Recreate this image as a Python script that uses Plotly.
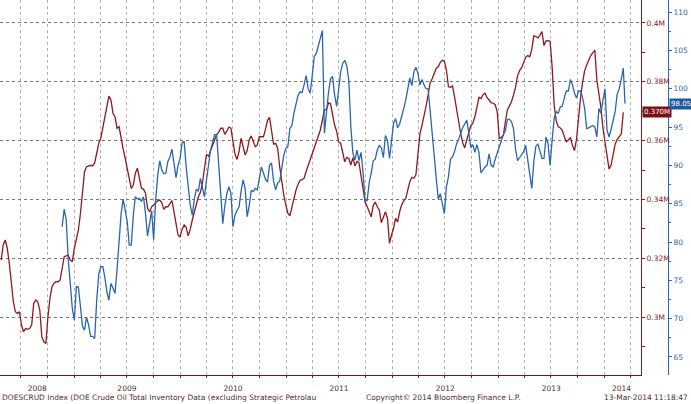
import plotly.graph_objects as go
import pandas as pd

# DOESCRUD (crude inventories, thousand-thousand barrels -> shown as M), weekly
red_start = "2008-04-25"
red_vals = [
    319.4, 324.5, 326.2, 323.4, 318.3, 312.6, 305.2, 301.8, 301.2, 301.8,
    297.3, 295.0, 296.1, 295.8, 296.1, 297.3, 304.6, 305.8, 305.2, 302.4,
    293.3, 291.6, 291.0, 300.1, 306.4, 310.3, 311.5, 312.0, 312.0, 312.6,
    316.0, 320.5, 320.8, 321.1, 319.4, 318.8, 323.4, 326.2, 329.6, 335.3,
    342.1, 349.4, 351.1, 351.4, 351.6, 351.4, 352.5, 355.7, 359.1, 360.8,
    364.2, 368.1, 372.1, 375.1, 373.8, 369.3, 368.1, 364.2, 364.7, 360.2,
    357.1, 354.0, 350.6, 346.6, 343.7, 344.9, 348.9, 350.6, 347.7, 343.8,
    343.5, 342.1, 337.0, 335.8, 337.5, 338.2, 338.7, 339.5, 339.8, 338.9,
    336.6, 337.5, 337.5, 338.7, 339.6, 335.8, 331.9, 327.9, 327.3, 329.8,
    331.3, 330.5, 327.6, 329.8, 333.0, 335.6, 339.0, 340.9, 342.4, 345.5,
    350.6, 355.3, 354.7, 356.6, 358.4, 360.8, 362.1, 362.8, 364.2, 364.2,
    362.1, 363.2, 364.6, 364.2, 360.2, 355.4, 353.6, 356.2, 360.8, 357.4,
    355.1, 356.6, 360.2, 361.6, 359.6, 357.9, 358.5, 361.3, 361.3, 361.3,
    363.8, 366.8, 367.9, 363.0, 358.8, 359.1, 357.4, 351.1, 346.0, 341.5,
    338.2, 335.3, 334.4, 337.5, 340.9, 343.1, 345.1, 346.5, 346.7, 347.2,
    349.5, 351.5, 354.0, 355.9, 357.9, 359.2, 361.3, 363.6, 367.0, 370.4,
    370.6, 372.8, 372.5, 368.1, 365.3, 363.2, 359.5, 359.1, 355.6, 352.8,
    354.3, 353.9, 351.7, 354.2, 351.4, 352.9, 352.5, 348.0, 342.3, 339.2,
    337.6, 335.6, 334.1, 337.9, 339.1, 337.5, 336.4, 332.1, 334.1, 335.8,
    333.6, 325.1, 327.9, 330.2, 333.6, 332.3, 335.8, 338.2, 339.5, 340.3,
    343.2, 346.0, 347.5, 347.2, 348.4, 355.1, 362.4, 365.2, 368.1, 371.7,
    375.5, 379.6, 381.0, 382.7, 384.6, 385.1, 386.6, 387.3, 387.0, 384.0,
    378.3, 378.1, 378.6, 374.9, 370.4, 366.4, 362.5, 359.3, 357.5, 360.2,
    363.0, 365.1, 365.9, 368.1, 371.3, 374.7, 374.3, 375.6, 376.1, 374.6,
    373.8, 372.9, 372.7, 372.2, 369.8, 360.8, 361.1, 361.8, 366.4, 370.4,
    371.8, 373.2, 375.5, 378.1, 382.0, 383.8, 384.8, 386.4, 388.3, 388.9,
    388.5, 391.0, 395.6, 395.4, 394.9, 395.8, 397.1, 392.3, 393.9, 394.0,
    393.8, 385.1, 372.1, 366.8, 364.7, 364.3, 363.5, 361.3, 359.6, 360.2,
    361.1, 358.3, 356.6, 360.4, 368.7, 374.7, 379.9, 383.8, 385.7, 387.4,
    388.9, 389.8, 390.8, 380.6, 375.5, 371.3, 364.2, 359.4, 353.6, 350.3,
    351.7, 355.7, 358.8, 360.4, 361.3, 362.2, 369.6,
]

# Blue price series, weekly plus final daily print
blue_start = "2008-11-21"
blue_vals = [
    82.0, 84.3, 82.9, 77.7, 74.6, 71.3, 69.8, 74.2, 74.1, 71.8,
    69.0, 68.5, 70.2, 69.2, 67.7, 67.7, 67.4, 72.4, 75.8, 76.8,
    76.8, 75.4, 73.5, 72.4, 74.6, 74.0, 73.3, 76.4, 79.8, 83.7,
    85.6, 84.1, 82.7, 79.6, 79.6, 83.5, 85.9, 85.6, 85.7, 85.3,
    85.9, 83.7, 80.8, 82.4, 84.1, 80.3, 85.5, 88.7, 90.6, 89.4,
    88.9, 89.0, 90.5, 91.1, 92.1, 90.3, 88.4, 90.0, 90.9, 93.0,
    93.1, 89.8, 86.8, 84.8, 83.5, 85.6, 86.9, 86.6, 88.3, 87.0,
    85.9, 88.1, 90.4, 92.0, 93.0, 94.0, 94.0, 89.8, 85.5, 82.4,
    84.7, 86.3, 87.2, 86.4, 82.0, 83.5, 84.1, 84.6, 86.6, 88.1,
    87.0, 83.3, 84.7, 86.7, 86.6, 87.0, 86.8, 88.5, 89.8, 89.0,
    88.2, 87.8, 90.0, 90.3, 87.9, 86.8, 87.7, 87.9, 89.4, 91.3,
    92.2, 92.4, 94.8, 95.2, 96.8, 98.2, 99.1, 99.6, 99.5, 100.5,
    101.7, 100.0, 99.4, 101.7, 104.2, 104.6, 105.7, 106.8, 107.6, 94.2,
    97.0, 99.5, 101.3, 101.6, 99.2, 97.7, 99.9, 102.2, 103.3, 103.7,
    103.0, 101.1, 95.0, 91.6, 90.7, 92.0, 90.6, 91.7, 89.1, 85.3,
    85.4, 87.7, 89.0, 90.6, 90.8, 92.0, 92.6, 92.3, 91.0, 93.9,
    93.3, 90.9, 93.1, 95.5, 96.1, 94.9, 95.4, 96.3, 97.4, 98.5,
    99.8, 101.4, 100.4, 102.2, 102.8, 102.0, 100.5, 101.2, 100.5, 100.0,
    100.0, 97.4, 94.5, 91.3, 88.3, 85.6, 86.3, 84.8, 83.7, 87.2,
    88.5, 90.8, 91.1, 91.8, 92.8, 93.4, 94.2, 94.9, 95.4, 95.9,
    94.3, 92.3, 92.7, 91.7, 92.7, 91.7, 89.0, 89.4, 89.8, 90.0,
    91.5, 90.0, 89.8, 90.8, 91.6, 92.6, 93.2, 94.0, 94.5, 96.0,
    96.0, 95.7, 94.8, 92.1, 90.6, 91.0, 91.3, 91.8, 92.6, 90.5,
    88.5, 87.0, 90.5, 92.5, 92.8, 91.8, 90.9, 90.9, 93.7, 92.8,
    90.0, 93.3, 96.1, 97.0, 96.8, 97.6, 97.7, 98.8, 99.7, 99.7,
    101.2, 100.5, 99.4, 98.8, 99.7, 99.7, 98.8, 97.4, 94.8, 94.9,
    95.0, 95.2, 95.0, 93.7, 97.4, 96.8, 98.5, 100.0, 94.6, 93.7,
    94.7, 96.0, 97.0, 99.3, 100.0, 101.2, 102.7,
]
blue_last_date = "2014-03-13"
blue_last_val = 98.05

red_tickvals = [300, 320, 340, 360, 380, 400]
red_ticktext = ["0.3M", "0.32M", "0.34M", "0.36M", "0.38M", "0.4M"]
year_tickvals = ["2008-08-27", "2009-07-02", "2010-07-02", "2011-07-02",
                 "2012-07-02", "2013-07-02", "2014-03-01"]
year_ticktext = ["2008", "2009", "2010", "2011", "2012", "2013", "2014"]

footer_left = "DOESCRUD Index (DOE Crude Oil Total Inventory Data (excluding Strategic Petrolau"
footer_mid = "Copyright\u00a9 2014 Bloomberg Finance L.P."
footer_right = "13-Mar-2014 11:18:47"

RED = "#8e1a1f"
BLUE = "#2a66ad"
TXT = "#4e3030"
FONT = "DejaVu Sans"

red_dates = pd.date_range(red_start, periods=len(red_vals), freq="7D")
blue_dates = list(pd.date_range(blue_start, periods=len(blue_vals), freq="7D")) + [pd.Timestamp(blue_last_date)]
blue_all = blue_vals + [blue_last_val]

W, H = 691, 404
fig = go.Figure()
fig.add_trace(go.Scatter(x=red_dates, y=red_vals, mode="lines",
                         line=dict(color=RED, width=1.3), yaxis="y"))
fig.add_trace(go.Scatter(x=blue_dates, y=blue_all, mode="lines",
                         line=dict(color=BLUE, width=1.3), yaxis="y2"))

xdom = 641 / W
fig.update_layout(
    width=W, height=H, autosize=False,
    margin=dict(l=0, r=0, t=0, b=29),
    paper_bgcolor="white", plot_bgcolor="white",
    showlegend=False,
    font=dict(family=FONT, size=7.5, color=TXT),
    xaxis=dict(
        type="date", domain=[0, xdom],
        range=["2008-04-21", "2014-05-07"],
        tickmode="array", tickvals=year_tickvals, ticktext=year_ticktext,
        ticks="", showgrid=False, zeroline=False, ticklabelstandoff=6,
        showline=True, linecolor="#6b1a1a", linewidth=1,
        tickfont=dict(family=FONT, size=7.5, color=TXT),
        minor=dict(dtick="M3", tick0="2008-01-01", showgrid=True,
                   gridcolor="#b4b4b4", griddash="dot", gridwidth=1,
                   ticks="outside", ticklen=2, tickcolor="#6b1a1a"),
    ),
    yaxis=dict(
        range=[280.3, 407.8], side="right", anchor="x",
        tickmode="array", tickvals=red_tickvals, ticktext=red_ticktext,
        ticks="outside", ticklen=3, tickcolor=RED,
        showgrid=True, gridcolor="#7a7a7a", griddash="dot", gridwidth=1,
        zeroline=False, showline=True, linecolor=RED, linewidth=1,
        tickfont=dict(family=FONT, size=7.5, color=RED),
        minor=dict(dtick=10, tick0=0, ticks="outside", ticklen=3,
                   tickcolor=RED, showgrid=False),
    ),
    yaxis2=dict(
        range=[62.65, 111.57], overlaying="y", side="right",
        anchor="free", position=668 / W,
        tickmode="linear", tick0=0, dtick=5,
        ticks="outside", ticklen=3, tickcolor=BLUE,
        showgrid=False, zeroline=False,
        showline=True, linecolor=BLUE, linewidth=1,
        tickfont=dict(family=FONT, size=7.5, color=BLUE),
        minor=dict(dtick=2.5, tick0=0, ticks="outside", ticklen=2,
                   tickcolor=BLUE, showgrid=False),
    ),
)

# last-value tags
fig.add_annotation(xref="paper", yref="y", x=xdom + 1 / W, y=red_vals[-1],
                   xanchor="left", yanchor="middle",
                   text=f"{red_vals[-1] / 1000:.3f}M", showarrow=False,
                   bgcolor="#7a1014", borderpad=1,
                   font=dict(family=FONT, size=7, color="white"))
fig.add_annotation(xref="paper", yref="y2", x=669 / W, y=blue_last_val,
                   xanchor="left", yanchor="middle",
                   text=f"{blue_last_val:.2f}", showarrow=False,
                   bgcolor="#1f5a9c", borderpad=1,
                   font=dict(family=FONT, size=7, color="white"))

# footer
fy = (375 - 397) / 375
fig.add_annotation(xref="paper", yref="paper", x=0, y=fy, xanchor="left",
                   yanchor="middle", text=footer_left, showarrow=False,
                   font=dict(family=FONT, size=7.5, color=TXT))
fig.add_annotation(xref="paper", yref="paper", x=443 / W, y=fy, xanchor="center",
                   yanchor="middle", text=footer_mid, showarrow=False,
                   font=dict(family=FONT, size=7.5, color=TXT))
fig.add_annotation(xref="paper", yref="paper", x=690 / W, y=fy, xanchor="right",
                   yanchor="middle", text=footer_right, showarrow=False,
                   font=dict(family=FONT, size=7.5, color=TXT))

fig.write_html("out.html")
